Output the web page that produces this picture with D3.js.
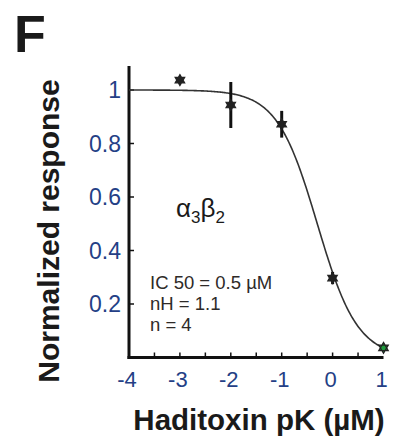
<!DOCTYPE html>
<html>
<head>
<meta charset="utf-8">
<script src="https://cdn.jsdelivr.net/npm/d3@7"></script>
<style>
  body { margin: 0; background: #fff; }
  svg { display: block; font-family: "Liberation Sans", Arial, Helvetica, sans-serif; }
</style>
</head>
<body>
<svg id="rootSVG" width="398" height="437"></svg>
<script>
// measured points (log concentration vs normalized response)
const logConc = [-3, -2, -1, 0, 1];
const response = [1.037, 0.944, 0.872, 0.297, 0.036];
const errBar = [0.01, 0.086, 0.05, 0.023, 0.01];
const markerFill = ["#222", "#222", "#222", "#222", "#1e9a3c"];

// fit parameters shown on the panel
const ic50 = 0.5;
const hill = 1.1;

const yTicks = [0.2, 0.4, 0.6, 0.8, 1];
const yTickLabels = ["0.2", "0.4", "0.6", "0.8", "1"];
const xTicks = [-4, -3, -2, -1, 0, 1];
const xMinorTicks = [-3.5, -3, -2.5, -2, -1.5, -1, -0.5, 0, 0.5];
const notes = ["IC 50 = 0.5 \u00b5M", "nH = 1.1", "n = 4"];

const svg = d3.select("#rootSVG");

const x = d3.scaleLinear().domain([-4, 1]).range([129, 383.5]);
const y = d3.scaleLinear().domain([0, 1]).range([357.5, 90]);
const yTop = 1.09;

const tickColor = "#243f86";

// panel letter
svg.append("text")
  .attr("x", 14).attr("y", 52)
  .attr("font-size", 52).attr("font-weight", "bold")
  .attr("fill", "#1a1a1a")
  .text("F");

// axes lines
svg.append("line")
  .attr("x1", x(-4)).attr("x2", x(-4))
  .attr("y1", y(yTop)).attr("y2", y(0) + 1.5)
  .attr("stroke", "#111").attr("stroke-width", 3);
svg.append("line")
  .attr("x1", x(-4) - 1.5).attr("x2", x(1))
  .attr("y1", y(0)).attr("y2", y(0))
  .attr("stroke", "#111").attr("stroke-width", 3);

// y ticks (inward)
svg.selectAll(".ytick").data(yTicks).enter().append("line")
  .attr("x1", x(-4)).attr("x2", x(-4) + 5)
  .attr("y1", d => y(d)).attr("y2", d => y(d))
  .attr("stroke", "#111").attr("stroke-width", 1.5);

svg.selectAll(".ylab").data(yTicks).enter().append("text")
  .attr("x", x(-4) - 8)
  .attr("y", d => y(d))
  .attr("dy", "0.36em")
  .attr("text-anchor", "end")
  .attr("font-size", 23)
  .attr("fill", tickColor)
  .text((d, i) => yTickLabels[i]);

// x ticks (inward)
svg.selectAll(".xtick").data(xMinorTicks).enter().append("line")
  .attr("x1", d => x(d)).attr("x2", d => x(d))
  .attr("y1", y(0)).attr("y2", y(0) - 5)
  .attr("stroke", "#111").attr("stroke-width", 1.5);

svg.selectAll(".xlab").data(xTicks).enter().append("text")
  .attr("x", d => x(d) - 2)
  .attr("y", 387)
  .attr("text-anchor", "middle")
  .attr("font-size", 22)
  .attr("fill", tickColor)
  .text(d => d);

// axis titles
svg.append("text")
  .attr("transform", "translate(59,231) rotate(-90)")
  .attr("text-anchor", "middle")
  .attr("font-size", 30).attr("font-weight", "bold")
  .attr("fill", "#1a1a1a")
  .text("Normalized response");

svg.append("text")
  .attr("x", 259).attr("y", 430)
  .attr("text-anchor", "middle")
  .attr("font-size", 29.5).attr("font-weight", "bold")
  .attr("fill", "#1a1a1a")
  .text("Haditoxin pK (\u00b5M)");

// fitted Hill curve
const logIc50 = Math.log10(ic50);
const curveX = d3.range(-4, 1.0001, 0.02);
const line = d3.line()
  .x(d => x(d))
  .y(d => y(1 / (1 + Math.pow(10, hill * (d - logIc50)))))
  .curve(d3.curveLinear);
svg.append("path")
  .datum(curveX)
  .attr("d", line)
  .attr("fill", "none")
  .attr("stroke", "#333")
  .attr("stroke-width", 1.6);

// error bars
svg.selectAll(".err").data(logConc).enter().append("line")
  .attr("x1", d => x(d)).attr("x2", d => x(d))
  .attr("y1", (d, i) => y(response[i] + errBar[i]))
  .attr("y2", (d, i) => y(response[i] - errBar[i]))
  .attr("stroke", "#111").attr("stroke-width", 3);

// hexagram markers
function hexagram(r) {
  const tri = a => d3.range(3).map(k => {
    const t = a + k * 2 * Math.PI / 3;
    return [r * Math.sin(t), -r * Math.cos(t)];
  });
  const p = pts => "M" + pts.map(q => q.join(",")).join("L") + "Z";
  return p(tri(0)) + p(tri(Math.PI / 3));
}
svg.selectAll(".mk").data(logConc).enter().append("path")
  .attr("transform", (d, i) => `translate(${x(d)},${y(response[i])})`)
  .attr("d", hexagram(5.5))
  .attr("fill", (d, i) => markerFill[i])
  .attr("stroke", "#222").attr("stroke-width", 1.2);

// annotations
const sub = svg.append("text")
  .attr("x", 176).attr("y", 217)
  .attr("font-size", 26)
  .attr("fill", "#1a1a1a");
sub.append("tspan").text("\u03b1");
sub.append("tspan").attr("dy", 6).attr("font-size", 17).text("3");
sub.append("tspan").attr("dy", -6).text("\u03b2");
sub.append("tspan").attr("dy", 6).attr("font-size", 17).text("2");

svg.selectAll(".note").data(notes).enter().append("text")
  .attr("x", 150)
  .attr("y", (d, i) => 289 + i * 21)
  .attr("font-size", 18.5)
  .attr("fill", "#2e2a28")
  .text(d => d);
</script>
</body>
</html>
